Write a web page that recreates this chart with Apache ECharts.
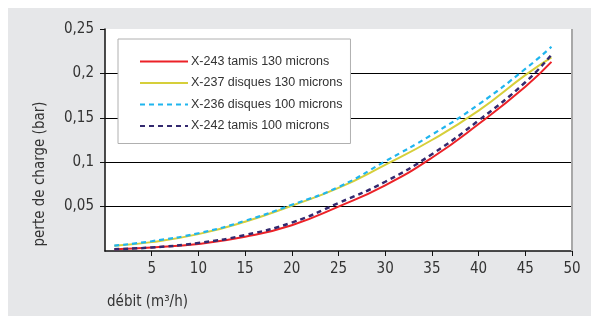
<!DOCTYPE html>
<html>
<head>
<meta charset="utf-8">
<script src="https://cdn.jsdelivr.net/npm/echarts@6/dist/echarts.min.js"></script>
<style>
  html, body { margin: 0; padding: 0; background: #fff; }
  #chart { width: 591px; height: 316px; }
</style>
</head>
<body>
<div id="chart"></div>
<script>
// débit (m3/h)
const debit = [1, 5, 10, 15, 20, 25, 30, 35, 40, 45, 47.8];
// perte de charge (bar)
const x243 = [0.002, 0.004, 0.008, 0.016, 0.029, 0.050, 0.074, 0.105, 0.143, 0.185, 0.213];
const x237 = [0.006, 0.010, 0.019, 0.033, 0.051, 0.071, 0.097, 0.125, 0.158, 0.198, 0.218];
const x236 = [0.006, 0.011, 0.020, 0.034, 0.052, 0.072, 0.101, 0.131, 0.165, 0.205, 0.230];
const x242 = [0.002, 0.004, 0.009, 0.018, 0.032, 0.054, 0.078, 0.109, 0.147, 0.190, 0.221];
const seriesNames = [
  'X-243 tamis 130 microns',
  'X-237 disques 130 microns',
  'X-236 disques 100 microns',
  'X-242 tamis 100 microns'
];

const condFont = '"Liberation Sans Narrow", "DejaVu Sans Condensed", sans-serif';
const axisColor = '#111';
const labelColor = '#333';

const pairs = (ys) => debit.map((x, i) => [x, ys[i]]);

const chart = echarts.init(document.getElementById('chart'));

const option = {
  animation: false,
  backgroundColor: '#fff',
  graphic: [
    {
      type: 'rect',
      z: -10,
      shape: { x: 8, y: 8, width: 583, height: 308 },
      style: { fill: '#e6e7e9' }
    },
    {
      type: 'line',
      z: 5,
      shape: { x1: 572, y1: 29, x2: 572, y2: 251 },
      style: { stroke: '#a8a8a8', lineWidth: 2 }
    },
    {
      type: 'text',
      x: 40,
      y: 174,
      rotation: Math.PI / 2,
      style: {
        text: 'perte de charge (bar)',
        font: '15px ' + condFont,
        fill: labelColor,
        align: 'center',
        verticalAlign: 'middle'
      }
    },
    {
      type: 'text',
      x: 107,
      y: 302,
      style: {
        text: 'débit (m³/h)',
        font: '15px ' + condFont,
        fill: labelColor,
        align: 'left',
        verticalAlign: 'middle'
      }
    }
  ],
  grid: {
    left: 105,
    right: 19,
    top: 29,
    bottom: 65,
    show: true,
    backgroundColor: '#fff',
    borderWidth: 0
  },
  legend: {
    orient: 'vertical',
    left: 118,
    top: 39,
    width: 232,
    padding: [16, 8, 11, 21],
    itemWidth: 48,
    itemHeight: 14,
    itemGap: 8.5,
    backgroundColor: '#fff',
    borderColor: '#b0b0b0',
    borderWidth: 1,
    itemStyle: { opacity: 0 },
    textStyle: {
      fontFamily: 'Liberation Sans, Arial, sans-serif',
      fontSize: 12.5,
      color: labelColor,
      padding: [0, 0, 0, -2]
    },
    data: seriesNames
  },
  xAxis: {
    type: 'value',
    min: 0,
    max: 50,
    interval: 5,
    axisLine: { show: true, lineStyle: { color: axisColor, width: 1.5 } },
    axisTick: { show: true, length: 5, lineStyle: { color: axisColor } },
    axisLabel: {
      showMinLabel: false,
      margin: 11,
      color: labelColor,
      fontFamily: condFont,
      fontSize: 15
    },
    splitLine: { show: false }
  },
  yAxis: {
    type: 'value',
    min: 0,
    max: 0.25,
    interval: 0.05,
    axisLine: { show: true, lineStyle: { color: axisColor, width: 1.5 } },
    axisTick: { show: true, length: 5, lineStyle: { color: axisColor } },
    axisLabel: {
      showMinLabel: false,
      margin: 11,
      color: labelColor,
      fontFamily: condFont,
      fontSize: 15,
      formatter: (v) => String(Math.round(v * 100) / 100).replace('.', ',')
    },
    splitLine: {
      show: true,
      showMinLine: false,
      showMaxLine: false,
      lineStyle: { color: '#000', width: 1 }
    }
  },
  series: [
    {
      name: seriesNames[0],
      type: 'line',
      smooth: true,
      symbol: 'none',
      data: pairs(x243),
      lineStyle: { color: '#ec2127', width: 2 },
      itemStyle: { color: '#ec2127' },
      z: 2
    },
    {
      name: seriesNames[1],
      type: 'line',
      smooth: true,
      symbol: 'none',
      data: pairs(x237),
      lineStyle: { color: '#d6cf3a', width: 2 },
      itemStyle: { color: '#d6cf3a' },
      z: 3
    },
    {
      name: seriesNames[2],
      type: 'line',
      smooth: true,
      symbol: 'none',
      data: pairs(x236),
      lineStyle: { color: '#1fb5ee', width: 2.2, type: [5, 4] },
      itemStyle: { color: '#1fb5ee' },
      z: 4
    },
    {
      name: seriesNames[3],
      type: 'line',
      smooth: true,
      symbol: 'none',
      data: pairs(x242),
      lineStyle: { color: '#33296f', width: 2.5, type: [5, 4] },
      itemStyle: { color: '#33296f' },
      z: 4
    }
  ]
};

chart.setOption(option);
</script>
</body>
</html>
